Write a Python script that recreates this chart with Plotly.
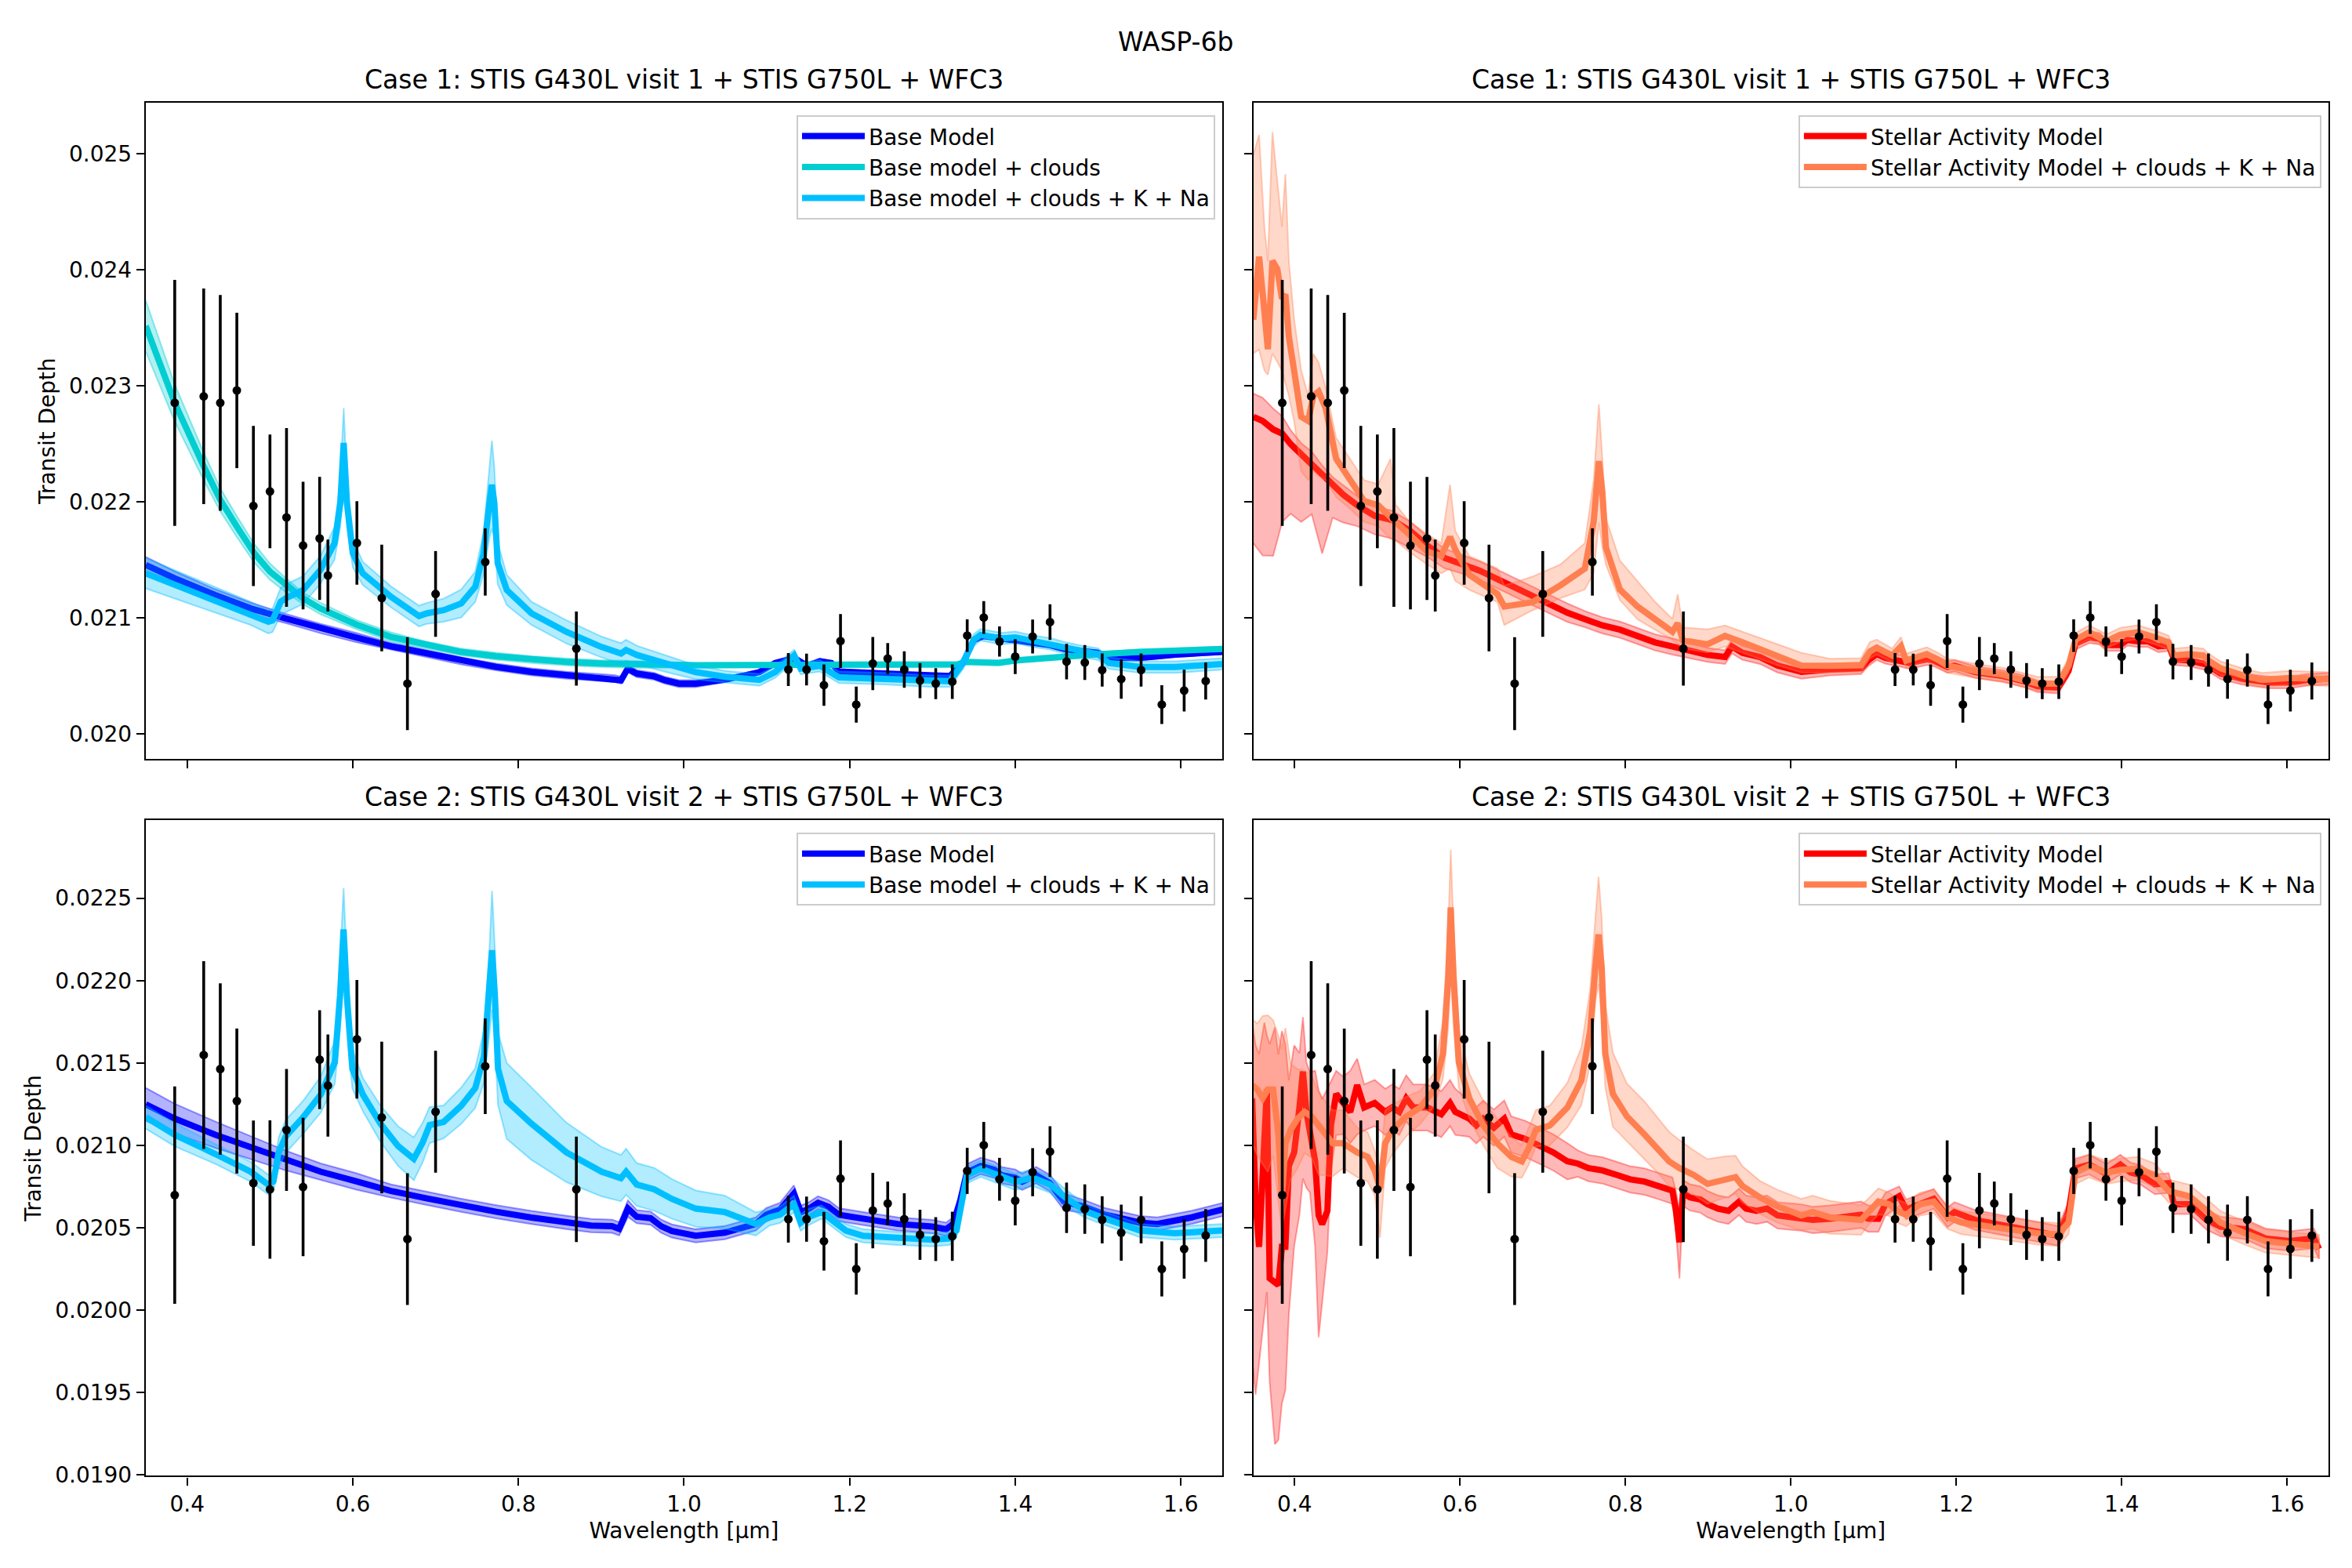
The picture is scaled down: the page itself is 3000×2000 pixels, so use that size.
import plotly.graph_objects as go

# ---------------- observed transit depths ----------------
wl_g430 = [0.385, 0.42, 0.44, 0.46, 0.48, 0.50, 0.52, 0.54, 0.56]
depth_g430_v1 = [0.022852, 0.022908, 0.022852, 0.022959, 0.021963, 0.022088, 0.021864, 0.021622, 0.021683]
err_g430_v1 = [0.00106, 0.00093, 0.00093, 0.00067, 0.00069, 0.00049, 0.00077, 0.00055, 0.00053]
depth_g430_v2 = [0.020698, 0.021548, 0.021463, 0.021269, 0.020771, 0.020732, 0.021093, 0.020747, 0.021520]
err_g430_v2 = [0.00066, 0.00057, 0.00052, 0.00044, 0.00038, 0.00042, 0.00037, 0.00042, 0.00030]

wl_g750 = [0.57, 0.605, 0.635, 0.666, 0.70, 0.76, 0.87]
depth_g750 = [0.021363, 0.021644, 0.021169, 0.020431, 0.021204, 0.021480, 0.020733]
err_g750 = [0.00031, 0.00036, 0.00046, 0.00040, 0.00037, 0.00029, 0.00032]

wl_wfc3 = [1.126, 1.148, 1.169, 1.189, 1.208, 1.228, 1.246, 1.266, 1.285, 1.304, 1.324, 1.342, 1.362,
           1.381, 1.400, 1.421, 1.442, 1.462, 1.484, 1.505, 1.528, 1.552, 1.577, 1.604, 1.630]
depth_wfc3 = [0.020552, 0.020552, 0.020418, 0.020798, 0.020250, 0.020604, 0.020647, 0.020552, 0.020457,
              0.020431, 0.020448, 0.020845, 0.021001, 0.020794, 0.020664, 0.020837, 0.020962, 0.020621,
              0.020613, 0.020548, 0.020470, 0.020548, 0.020250, 0.020371, 0.020453]
err_wfc3 = [0.000142, 0.000137, 0.000178, 0.000232, 0.000156, 0.000229, 0.000133, 0.000157, 0.000152,
            0.000133, 0.000149, 0.000140, 0.000141, 0.000130, 0.000150, 0.000146, 0.000154, 0.000153,
            0.000150, 0.000143, 0.000170, 0.000143, 0.000167, 0.000180, 0.000160]

# ---------------- Case 1, base models ----------------
wlA_base = [0.35, 0.385, 0.434, 0.477, 0.519, 0.561, 0.604, 0.646, 0.689, 0.731, 0.773, 0.816, 0.858,
            0.892, 0.917, 0.924, 0.932, 0.943, 0.964, 0.977, 0.994, 1.014, 1.050, 1.091, 1.110, 1.133,
            1.149, 1.164, 1.178, 1.187, 1.241, 1.300, 1.321, 1.337, 1.350, 1.362, 1.383, 1.400, 1.421,
            1.442, 1.459, 1.480, 1.500, 1.513, 1.551, 1.593, 1.650]
depA_base = [0.021454, 0.021339, 0.021195, 0.021079, 0.020993, 0.020906, 0.020828, 0.020753, 0.020690,
             0.020627, 0.020575, 0.020532, 0.020503, 0.020488, 0.020474, 0.020460, 0.020560, 0.020517,
             0.020494, 0.020460, 0.020431, 0.020431, 0.020465, 0.020530, 0.020608, 0.020652, 0.020585,
             0.020625, 0.020608, 0.020536, 0.020519, 0.020496, 0.020496, 0.020608, 0.020808, 0.020841,
             0.020819, 0.020808, 0.020785, 0.020763, 0.020730, 0.020708, 0.020696, 0.020652, 0.020652,
             0.020680, 0.020705]
bandA_base = [0.00007, 0.00006, 0.00005, 0.00005, 0.00004, 0.00004, 0.00004, 0.00003, 0.00003, 0.00003,
              0.00003, 0.00003, 0.00003, 0.00003, 0.00003, 0.00003, 0.00003, 0.00003, 0.00003, 0.00003,
              0.00003, 0.00003, 0.00002, 0.00002, 0.00002, 0.00002, 0.00002, 0.00002, 0.00002, 0.00002,
              0.00002, 0.00002, 0.00002, 0.00002, 0.00002, 0.00002, 0.00002, 0.00002, 0.00002, 0.00002,
              0.00002, 0.00002, 0.00002, 0.00002, 0.00002, 0.00002, 0.00002]

wlA_cloud = [0.35, 0.385, 0.42, 0.44, 0.46, 0.481, 0.50, 0.519, 0.54, 0.561, 0.604, 0.646, 0.689, 0.731,
             0.773, 0.816, 0.858, 0.90, 0.943, 1.014, 1.10, 1.20, 1.33, 1.34, 1.38, 1.40, 1.43, 1.45,
             1.50, 1.55, 1.65]
depA_cloud = [0.023515, 0.022852, 0.022304, 0.022016, 0.021785, 0.021555, 0.021396, 0.021281, 0.021166,
              0.021079, 0.020941, 0.020834, 0.020762, 0.020704, 0.020667, 0.020638, 0.020618, 0.020604,
              0.020596, 0.020589, 0.020592, 0.020596, 0.020596, 0.020619, 0.020610, 0.020630, 0.020650,
              0.020660, 0.020685, 0.020705, 0.020730]
bandA_cloud = [0.00022, 0.00016, 0.00012, 0.00010, 0.00009, 0.00008, 0.00007, 0.00006, 0.00005, 0.00005,
               0.00004, 0.00004, 0.00003, 0.00003, 0.00003, 0.00003, 0.00003, 0.00003, 0.00003, 0.00002,
               0.00002, 0.00002, 0.00002, 0.00002, 0.00002, 0.00002, 0.00002, 0.00002, 0.00002, 0.00002,
               0.00002]

wlA_kna = [0.35, 0.392, 0.434, 0.477, 0.498, 0.503, 0.513, 0.519, 0.540, 0.561, 0.578, 0.585, 0.589,
           0.593, 0.600, 0.612, 0.646, 0.680, 0.689, 0.710, 0.731, 0.748, 0.758, 0.765, 0.768, 0.771,
           0.775, 0.786, 0.816, 0.858, 0.900, 0.924, 0.930, 0.943, 0.985, 1.014, 1.050, 1.091, 1.110,
           1.133, 1.141, 1.164, 1.187, 1.241, 1.300, 1.321, 1.337, 1.350, 1.358, 1.383, 1.400, 1.421,
           1.442, 1.459, 1.480, 1.500, 1.513, 1.551, 1.593, 1.650]
depA_kna = [0.021382, 0.021267, 0.021151, 0.021036, 0.020964, 0.020975, 0.021137, 0.021166, 0.021238,
            0.021411, 0.021641, 0.021987, 0.022506, 0.021987, 0.021555, 0.021382, 0.021180, 0.021013,
            0.021036, 0.021065, 0.021122, 0.021267, 0.021555, 0.021987, 0.022146, 0.021987, 0.021469,
            0.021238, 0.021036, 0.020877, 0.020748, 0.020690, 0.020720, 0.020678, 0.020589, 0.020530,
            0.020490, 0.020463, 0.020530, 0.020674, 0.020560, 0.020585, 0.020485, 0.020474, 0.020452,
            0.020452, 0.020608, 0.020808, 0.020852, 0.020819, 0.020830, 0.020797, 0.020774, 0.020741,
            0.020708, 0.020685, 0.020608, 0.020574, 0.020574, 0.020600]
bandA_kna = [0.00013, 0.00012, 0.00011, 0.00010, 0.00010, 0.00010, 0.00012, 0.00012, 0.00012, 0.00012,
             0.00014, 0.00020, 0.00030, 0.00020, 0.00012, 0.00010, 0.00009, 0.00009, 0.00009, 0.00010,
             0.00012, 0.00013, 0.00018, 0.00030, 0.00038, 0.00030, 0.00018, 0.00013, 0.00010, 0.00010,
             0.00009, 0.00009, 0.00009, 0.00008, 0.00007, 0.00006, 0.00005, 0.00005, 0.00005, 0.00005,
             0.00005, 0.00005, 0.00005, 0.00005, 0.00005, 0.00005, 0.00005, 0.00005, 0.00005, 0.00005,
             0.00005, 0.00005, 0.00005, 0.00005, 0.00005, 0.00005, 0.00005, 0.00005, 0.00005, 0.00005]

# ---------------- Case 1, stellar activity models ----------------
wlB_sa = [0.35, 0.3613, 0.3740, 0.3850, 0.3952, 0.4079, 0.4206, 0.4333, 0.4460, 0.4587, 0.4756, 0.4968,
          0.5180, 0.5392, 0.5603, 0.5815, 0.6027, 0.6239, 0.6451, 0.6662, 0.6874, 0.7086, 0.7298, 0.7509,
          0.7721, 0.7933, 0.8145, 0.8357, 0.8568, 0.8992, 0.9204, 0.9288, 0.9415, 0.9627, 0.9839, 1.0127,
          1.0474, 1.0850, 1.0934, 1.1038, 1.1143, 1.1310, 1.1435, 1.1644, 1.1728, 1.1895, 1.1979, 1.2229,
          1.2564, 1.2814, 1.2982, 1.3232, 1.3358, 1.3441, 1.3608, 1.3734, 1.3817, 1.3984, 1.4068, 1.4193,
          1.4319, 1.4444, 1.4569, 1.4632, 1.4820, 1.5029, 1.5196, 1.5447, 1.5656, 1.5781, 1.6032, 1.6241,
          1.6513]
depB_sa = [0.022732, 0.022696, 0.022623, 0.022587, 0.022496, 0.022405, 0.022332, 0.022223, 0.022132,
           0.022060, 0.021969, 0.021878, 0.021841, 0.021751, 0.021623, 0.021514, 0.021460, 0.021405,
           0.021333, 0.021260, 0.021187, 0.021114, 0.021042, 0.020987, 0.020933, 0.020896, 0.020842,
           0.020787, 0.020751, 0.020678, 0.020660, 0.020751, 0.020696, 0.020660, 0.020587, 0.020533,
           0.020552, 0.020563, 0.020630, 0.020685, 0.020652, 0.020630, 0.020608, 0.020641, 0.020630,
           0.020574, 0.020585, 0.020530, 0.020496, 0.020452, 0.020408, 0.020396, 0.020541, 0.020774,
           0.020830, 0.020819, 0.020763, 0.020763, 0.020808, 0.020796, 0.020796, 0.020752, 0.020763,
           0.020641, 0.020630, 0.020596, 0.020519, 0.020474, 0.020452, 0.020441, 0.020441, 0.020463,
           0.020474]
lowB_sa = [0.00109, 0.00116, 0.00109, 0.00076, 0.00060, 0.00058, 0.00044, 0.00067, 0.00027, 0.00024,
           0.00018, 0.00016, 0.00016, 0.00015, 0.00010, 0.00009, 0.00008, 0.00008, 0.00008, 0.00008,
           0.00008, 0.00008, 0.00008, 0.00007, 0.00007, 0.00007, 0.00007, 0.00007, 0.00007, 0.00006,
           0.00006, 0.00006, 0.00006, 0.00006, 0.00006, 0.00006,
           0.00005, 0.00005, 0.00005, 0.00005, 0.00005, 0.00005, 0.00005, 0.00005, 0.00005, 0.00005,
           0.00005, 0.00005, 0.00005, 0.00005, 0.00005, 0.00005, 0.00005, 0.00005, 0.00005, 0.00005,
           0.00005, 0.00005, 0.00005, 0.00005, 0.00005, 0.00005, 0.00005, 0.00005, 0.00005, 0.00005,
           0.00005, 0.00005, 0.00005, 0.00005, 0.00005, 0.00005, 0.00005]
highB_sa = [0.00020, 0.00020, 0.00018, 0.00015, 0.00012, 0.00010, 0.00010, 0.00009, 0.00008, 0.00008,
            0.00008, 0.00008, 0.00008, 0.00008, 0.00008, 0.00008, 0.00008, 0.00008, 0.00008, 0.00008,
            0.00008, 0.00008, 0.00008, 0.00007, 0.00007, 0.00007, 0.00007, 0.00007, 0.00007, 0.00006,
            0.00006, 0.00006, 0.00006, 0.00006, 0.00006, 0.00006,
            0.00005, 0.00005, 0.00005, 0.00005, 0.00005, 0.00005, 0.00005, 0.00005, 0.00005, 0.00005,
            0.00005, 0.00005, 0.00005, 0.00005, 0.00005, 0.00005, 0.00005, 0.00005, 0.00005, 0.00005,
            0.00005, 0.00005, 0.00005, 0.00005, 0.00005, 0.00005, 0.00005, 0.00005, 0.00005, 0.00005,
            0.00005, 0.00005, 0.00005, 0.00005, 0.00005, 0.00005, 0.00005]

wlB_sakna = [0.35, 0.3570, 0.3634, 0.3676, 0.3731, 0.3791, 0.3846, 0.3888, 0.3930, 0.3994, 0.4079,
             0.4163, 0.4227, 0.4290, 0.4375, 0.4502, 0.4672, 0.4841, 0.5011, 0.5159, 0.5222, 0.5392,
             0.5603, 0.5773, 0.5879, 0.5942, 0.6112, 0.6451, 0.6535, 0.6874, 0.7213, 0.7509, 0.7615,
             0.7679, 0.7721, 0.7764, 0.7933, 0.8145, 0.8357, 0.8568, 0.8632, 0.8695, 0.8992, 0.9204,
             0.9415, 0.9839, 1.0127,
             1.0474, 1.0850, 1.0955, 1.1038, 1.1226, 1.1331, 1.1394, 1.1644, 1.1770, 1.1895, 1.2229,
             1.2564, 1.2982, 1.3232, 1.3358, 1.3441, 1.3608, 1.3817, 1.3984, 1.4193, 1.4402, 1.4569,
             1.4632, 1.4820, 1.4987, 1.5050, 1.5196, 1.5489, 1.5698, 1.6032, 1.6513]
depB_sakna = [0.023568, 0.024113, 0.023641, 0.023314, 0.024077, 0.024004, 0.023750, 0.023786, 0.023423,
              0.023132, 0.022732, 0.022696, 0.022914, 0.022950, 0.022805, 0.022369, 0.022187, 0.022005,
              0.021969, 0.021860, 0.021823, 0.021714, 0.021569, 0.021532, 0.021696, 0.021587, 0.021369,
              0.021205, 0.021096, 0.021133, 0.021278, 0.021423, 0.021823, 0.022350, 0.022078, 0.021605,
              0.021242, 0.021096, 0.020987, 0.020878, 0.020951, 0.020805, 0.020769, 0.020842, 0.020787,
              0.020660, 0.020587,
              0.020585, 0.020590, 0.020708, 0.020741, 0.020674, 0.020752, 0.020630, 0.020685, 0.020641,
              0.020585, 0.020541, 0.020508, 0.020430, 0.020430, 0.020585, 0.020808, 0.020874, 0.020796,
              0.020852, 0.020874, 0.020830, 0.020785, 0.020674, 0.020685, 0.020674, 0.020630, 0.020563,
              0.020496, 0.020463, 0.020480, 0.020470]
lowB_sakna = [0.00029, 0.00080, 0.00051, 0.00022, 0.00080, 0.00080, 0.00062, 0.00076, 0.00051, 0.00044,
              0.00047, 0.00051, 0.00065, 0.00073, 0.00062, 0.00033, 0.00025, 0.00018, 0.00018, 0.00018,
              0.00016, 0.00015, 0.00011, 0.00015, 0.00027, 0.00027, 0.00013, 0.00007, 0.00016, 0.00007,
              0.00011, 0.00018, 0.00044, 0.00053, 0.00047, 0.00015, 0.00009, 0.00011, 0.00009, 0.00007,
              0.00018, 0.00007, 0.00007, 0.00009, 0.00009, 0.00007, 0.00006,
              0.00006, 0.00006, 0.00006, 0.00006, 0.00006, 0.00006, 0.00006, 0.00006, 0.00006, 0.00006,
              0.00006, 0.00006, 0.00006, 0.00006, 0.00006, 0.00006, 0.00006, 0.00006, 0.00006, 0.00006,
              0.00006, 0.00006, 0.00006, 0.00006, 0.00006, 0.00006, 0.00006, 0.00006, 0.00006, 0.00006,
              0.00006]
highB_sakna = [0.00142, 0.00105, 0.00073, 0.00076, 0.00111, 0.00073, 0.00062, 0.00104, 0.00065, 0.00044,
               0.00040, 0.00022, 0.00036, 0.00025, 0.00018, 0.00018, 0.00018, 0.00018, 0.00018, 0.00051,
               0.00015, 0.00011, 0.00015, 0.00011, 0.00045, 0.00016, 0.00016, 0.00022, 0.00018, 0.00022,
               0.00018, 0.00022, 0.00036, 0.00049, 0.00029, 0.00025, 0.00025, 0.00022, 0.00015, 0.00011,
               0.00025, 0.00011, 0.00013, 0.00009, 0.00009, 0.00011, 0.00011,
               0.00006, 0.00006, 0.00008, 0.00007, 0.00006, 0.00008, 0.00006, 0.00006, 0.00006, 0.00006,
               0.00006, 0.00006, 0.00006, 0.00006, 0.00006, 0.00006, 0.00006, 0.00006, 0.00006, 0.00006,
               0.00006, 0.00006, 0.00006, 0.00006, 0.00006, 0.00006, 0.00006, 0.00006, 0.00006, 0.00006,
               0.00006]

# ---------------- Case 2, base models ----------------
wlC_base = [0.35, 0.385, 0.4342, 0.4766, 0.5190, 0.5613, 0.6037, 0.6461, 0.6885, 0.7309, 0.7733, 0.8157,
            0.8581, 0.8878, 0.9132, 0.9217, 0.9323, 0.9429, 0.9598, 0.9725, 0.9853, 1.0141,
            1.0491, 1.0867, 1.0992, 1.1160, 1.1327, 1.1410, 1.1494, 1.1619, 1.1745, 1.1870, 1.2162,
            1.2580, 1.2998, 1.3165, 1.3249, 1.3333, 1.3416, 1.3583, 1.3750, 1.3834, 1.4001, 1.4085,
            1.4252, 1.4419, 1.4586, 1.4837, 1.5088, 1.5506, 1.5715, 1.6132, 1.6508]
depC_base = [0.021249, 0.021162, 0.021064, 0.020986, 0.020908, 0.020840, 0.020782, 0.020723, 0.020679,
             0.020636, 0.020597, 0.020562, 0.020532, 0.020513, 0.020509, 0.020493, 0.020616, 0.020567,
             0.020558, 0.020509, 0.020480, 0.020451,
             0.020470, 0.020523, 0.020579, 0.020611, 0.020707, 0.020595, 0.020611, 0.020651, 0.020627,
             0.020579, 0.020555, 0.020523, 0.020507, 0.020491, 0.020523, 0.020659, 0.020835, 0.020875,
             0.020851, 0.020819, 0.020803, 0.020779, 0.020819, 0.020771, 0.020659, 0.020627, 0.020579,
             0.020531, 0.020523, 0.020563, 0.020611]
bandC_base = [0.00010, 0.00009, 0.00008, 0.00007, 0.00006, 0.00005, 0.00005, 0.00004, 0.00004, 0.00004,
              0.00004, 0.00004, 0.00004, 0.00004, 0.00004, 0.00004, 0.00005, 0.00004, 0.00004, 0.00004,
              0.00004, 0.00004,
              0.00004, 0.00004, 0.00004, 0.00004, 0.00005, 0.00004, 0.00004, 0.00004, 0.00004, 0.00004,
              0.00004, 0.00004, 0.00004, 0.00004, 0.00004, 0.00005, 0.00005, 0.00005, 0.00005, 0.00005,
              0.00005, 0.00005, 0.00005, 0.00005, 0.00005, 0.00004, 0.00004, 0.00004, 0.00004, 0.00004,
              0.00004]

wlC_kna = [0.35, 0.385, 0.4342, 0.4766, 0.4978, 0.5041, 0.5105, 0.5190, 0.5402, 0.5613, 0.5783, 0.5847,
           0.5889, 0.5931, 0.5995, 0.6122, 0.6334, 0.6546, 0.6737, 0.6843, 0.6928, 0.7097, 0.7309,
           0.7479, 0.7585, 0.7648, 0.7682, 0.7716, 0.7754, 0.7860, 0.8157, 0.8581, 0.9005, 0.9238,
           0.9301, 0.9429, 0.9640, 0.9853, 1.0141,
           1.0491, 1.0867, 1.1034, 1.1160, 1.1327, 1.1410, 1.1494, 1.1661, 1.1828, 1.1954, 1.2162,
           1.2580, 1.2998, 1.3207, 1.3291, 1.3416, 1.3583, 1.3834, 1.4001, 1.4210, 1.4419, 1.4586,
           1.4837, 1.5088, 1.5506, 1.5923, 1.6508]
depC_kna = [0.021171, 0.021064, 0.020947, 0.020840, 0.020762, 0.020782, 0.020957, 0.021054, 0.021171,
            0.021308, 0.021503, 0.021912, 0.022311, 0.021892, 0.021464, 0.021308, 0.021132, 0.020996,
            0.020918, 0.021016, 0.021123, 0.021142, 0.021240, 0.021347, 0.021541, 0.021912, 0.022184,
            0.021912, 0.021464, 0.021269, 0.021132, 0.020957, 0.020840, 0.020801, 0.020840, 0.020762,
            0.020733, 0.020675, 0.020616,
            0.020595, 0.020523, 0.020563, 0.020579, 0.020643, 0.020531, 0.020563, 0.020595, 0.020531,
            0.020483, 0.020451, 0.020435, 0.020427, 0.020435, 0.020483, 0.020819, 0.020859, 0.020811,
            0.020779, 0.020803, 0.020763, 0.020691, 0.020603, 0.020555, 0.020483, 0.020467, 0.020483]
bandC_kna = [0.00007, 0.00007, 0.00006, 0.00006, 0.00006, 0.00006, 0.00009, 0.00010, 0.00010, 0.00011,
             0.00013, 0.00020, 0.00025, 0.00020, 0.00012, 0.00010, 0.00011, 0.00012, 0.00013, 0.00012,
             0.00011, 0.00010, 0.00011, 0.00012, 0.00016, 0.00025, 0.00036, 0.00028, 0.00022, 0.00023,
             0.00022, 0.00018, 0.00015, 0.00014, 0.00014, 0.00013, 0.00013, 0.00012, 0.00011,
             0.00010, 0.00007, 0.00005, 0.00005, 0.00005, 0.00005, 0.00005, 0.00004, 0.00004, 0.00004,
             0.00004, 0.00004, 0.00004, 0.00004, 0.00004, 0.00005, 0.00005, 0.00005, 0.00005, 0.00005,
             0.00005, 0.00005, 0.00004, 0.00004, 0.00004, 0.00004, 0.00004]

# ---------------- Case 2, stellar activity models ----------------
wlD_sa = [0.3486, 0.3528, 0.3570, 0.3634, 0.3664, 0.3698, 0.3761, 0.3803, 0.3846, 0.3888, 0.3930, 0.3994,
          0.4058, 0.4100, 0.4142, 0.4185, 0.4248, 0.4290, 0.4333, 0.4396, 0.4439, 0.4502, 0.4587, 0.4672,
          0.4756, 0.4841, 0.4968, 0.5095, 0.5180, 0.5265, 0.5349, 0.5434, 0.5603, 0.5773, 0.5879, 0.5942,
          0.6112, 0.6196, 0.6281, 0.6408, 0.6535, 0.6620, 0.6789, 0.6959, 0.7128, 0.7298, 0.7425, 0.7552,
          0.7721, 0.7891, 0.8060, 0.8230, 0.8399, 0.8568, 0.8611, 0.8653, 0.8695, 0.8780, 0.8907, 0.8992,
          0.9119, 0.9246, 0.9373, 0.9458, 0.9585, 0.9712, 0.9839, 1.0127,
          1.0265, 1.0474, 1.0850, 1.0934, 1.1059, 1.1143, 1.1310, 1.1394, 1.1561, 1.1728, 1.1895, 1.1979,
          1.2229, 1.2564, 1.2982, 1.3232, 1.3358, 1.3441, 1.3608, 1.3817, 1.3984, 1.4110, 1.4235, 1.4402,
          1.4569, 1.4632, 1.4820, 1.5029, 1.5196, 1.5489, 1.5740, 1.6032, 1.6325, 1.6387]
depD_sa = [0.021285, 0.020657, 0.020384, 0.021066, 0.021339, 0.020193, 0.020166, 0.020152, 0.020384,
           0.020384, 0.020875, 0.020957, 0.021230, 0.021448, 0.021203, 0.021094, 0.020903, 0.020575,
           0.020521, 0.020603, 0.021121, 0.021312, 0.021257, 0.021203, 0.021366, 0.021230, 0.021257,
           0.021203, 0.021230, 0.021203, 0.021285, 0.021230, 0.021230, 0.021189, 0.021257, 0.021203,
           0.021162, 0.021121, 0.021162, 0.021107, 0.021162, 0.021066, 0.021039, 0.020998, 0.020957,
           0.020903, 0.020889, 0.020862, 0.020848, 0.020821, 0.020793, 0.020780, 0.020753, 0.020725,
           0.020603, 0.020412, 0.020712, 0.020684, 0.020671, 0.020643, 0.020616, 0.020603, 0.020657,
           0.020616, 0.020603, 0.020616, 0.020575, 0.020562,
           0.020547, 0.020555, 0.020579, 0.020555, 0.020555, 0.020643, 0.020691, 0.020611, 0.020643,
           0.020675, 0.020563, 0.020595, 0.020547, 0.020515, 0.020475, 0.020451, 0.020595, 0.020859,
           0.020883, 0.020827, 0.020883, 0.020835, 0.020819, 0.020763, 0.020771, 0.020643, 0.020643,
           0.020547, 0.020507, 0.020491, 0.020435, 0.020419, 0.020435, 0.020371]
lowD_sa = [0.00158, 0.00117, 0.00068, 0.00109, 0.00123, 0.00063, 0.00098, 0.00094, 0.00095, 0.00087,
           0.00090, 0.00057, 0.00065, 0.00065, 0.00046, 0.00038, 0.00052, 0.00074, 0.00049, 0.00025,
           0.00027, 0.00025, 0.00019, 0.00019, 0.00030,
           0.00014, 0.00014, 0.00014, 0.00014, 0.00014, 0.00014, 0.00014, 0.00014, 0.00014, 0.00014,
           0.00014, 0.00011, 0.00011, 0.00011, 0.00011, 0.00011, 0.00011, 0.00011, 0.00011, 0.00011,
           0.00011, 0.00008, 0.00008, 0.00008, 0.00008, 0.00008, 0.00008, 0.00008, 0.00008, 0.00012,
           0.00022, 0.00008, 0.00008, 0.00008, 0.00008, 0.00008, 0.00008, 0.00008, 0.00008, 0.00008,
           0.00008, 0.00008, 0.00008,
           0.00008, 0.00008, 0.00008, 0.00008, 0.00008, 0.00007, 0.00006, 0.00006, 0.00006, 0.00006,
           0.00006, 0.00006, 0.00006, 0.00006, 0.00006, 0.00006, 0.00006, 0.00006, 0.00006, 0.00006,
           0.00006, 0.00006, 0.00006, 0.00006, 0.00006, 0.00006, 0.00006, 0.00006, 0.00006, 0.00006,
           0.00006, 0.00006, 0.00006, 0.00006]
highD_sa = [0.00046, 0.00095, 0.00117, 0.00068, 0.00033, 0.00142, 0.00155, 0.00140, 0.00131, 0.00123,
            0.00052, 0.00065, 0.00033, 0.00033, 0.00030, 0.00035, 0.00055, 0.00076, 0.00076, 0.00074,
            0.00027, 0.00014, 0.00016, 0.00025, 0.00016,
            0.00014, 0.00014, 0.00014, 0.00014, 0.00014, 0.00014, 0.00014, 0.00014, 0.00014, 0.00014,
            0.00014, 0.00011, 0.00011, 0.00011, 0.00011, 0.00011, 0.00011, 0.00011, 0.00011, 0.00011,
            0.00011, 0.00008, 0.00008, 0.00008, 0.00008, 0.00008, 0.00008, 0.00008, 0.00008, 0.00012,
            0.00019, 0.00008, 0.00008, 0.00008, 0.00008, 0.00008, 0.00008, 0.00008, 0.00008, 0.00008,
            0.00008, 0.00008, 0.00008,
            0.00008, 0.00008, 0.00008, 0.00008, 0.00008, 0.00007, 0.00006, 0.00006, 0.00006, 0.00006,
            0.00006, 0.00006, 0.00006, 0.00006, 0.00006, 0.00006, 0.00006, 0.00006, 0.00006, 0.00006,
            0.00006, 0.00006, 0.00006, 0.00006, 0.00006, 0.00006, 0.00006, 0.00006, 0.00006, 0.00006,
            0.00006, 0.00006, 0.00006, 0.00006]

wlD_sakna = [0.3486, 0.3549, 0.3613, 0.3676, 0.3740, 0.3803, 0.3846, 0.3888, 0.3952, 0.4036, 0.4121,
             0.4206, 0.4290, 0.4375, 0.4460, 0.4587, 0.4756, 0.4883, 0.4968, 0.5032, 0.5095, 0.5180,
             0.5349, 0.5519, 0.5688, 0.5794, 0.5858, 0.5887, 0.5921, 0.5985, 0.6112, 0.6281, 0.6451,
             0.6620, 0.6747, 0.6832, 0.6917, 0.7086, 0.7298, 0.7467, 0.7573, 0.7636, 0.7675, 0.7713,
             0.7755, 0.7848, 0.8018, 0.8230, 0.8441, 0.8526, 0.8653, 0.8822, 0.8992, 0.9204, 0.9331,
             0.9415, 0.9627, 0.9839, 1.0127,
             1.0265, 1.0474, 1.0850, 1.0934, 1.1059, 1.1185, 1.1310, 1.1394, 1.1561, 1.1728, 1.1895,
             1.2062, 1.2396, 1.2773, 1.2982, 1.3232, 1.3358, 1.3441, 1.3608, 1.3817, 1.3984, 1.4193,
             1.4402, 1.4569, 1.4820, 1.5050, 1.5196, 1.5489, 1.5740, 1.6032, 1.6387]
depD_sakna = [0.021366, 0.021339, 0.021285, 0.021339, 0.021339, 0.021066, 0.020684, 0.021012, 0.021094,
              0.021162, 0.021203, 0.021175, 0.021121, 0.021066, 0.021012, 0.021012, 0.020957, 0.020930,
              0.020848, 0.020739, 0.021012, 0.021094, 0.021175, 0.021230, 0.021339, 0.021557, 0.022021,
              0.022444, 0.022021, 0.021503, 0.021285, 0.021121, 0.021012, 0.020930, 0.020903, 0.020984,
              0.021094, 0.021121, 0.021230, 0.021394, 0.021694, 0.022076, 0.022280, 0.022076, 0.021557,
              0.021312, 0.021175, 0.021066, 0.020957, 0.020903, 0.020862, 0.020821, 0.020766, 0.020793,
              0.020807, 0.020753, 0.020684, 0.020630, 0.020575,
              0.020595, 0.020563, 0.020547, 0.020595, 0.020659, 0.020643, 0.020595, 0.020579, 0.020643,
              0.020659, 0.020563, 0.020531, 0.020507, 0.020483, 0.020467, 0.020459, 0.020531, 0.020835,
              0.020875, 0.020835, 0.020851, 0.020859, 0.020819, 0.020723, 0.020691, 0.020595, 0.020531,
              0.020467, 0.020419, 0.020403, 0.020387]
lowD_sakna = [0.00035, 0.00040, 0.00040, 0.00050, 0.00040, 0.00040, 0.00020, 0.00040, 0.00030, 0.00030,
              0.00025, 0.00025, 0.00030, 0.00025, 0.00020, 0.00015, 0.00015, 0.00015, 0.00015, 0.00030,
              0.00015, 0.00015, 0.00012, 0.00010, 0.00010, 0.00015, 0.00030, 0.00040, 0.00030, 0.00015,
              0.00012, 0.00012, 0.00015, 0.00012, 0.00010, 0.00010, 0.00010, 0.00012, 0.00012, 0.00015,
              0.00020, 0.00020, 0.00030, 0.00030, 0.00020, 0.00020, 0.00015, 0.00015, 0.00015, 0.00015,
              0.00013, 0.00012, 0.00012, 0.00011, 0.00010, 0.00010, 0.00010, 0.00010, 0.00009,
              0.00010, 0.00010, 0.00009, 0.00008, 0.00008, 0.00007, 0.00007, 0.00007, 0.00007, 0.00007,
              0.00007, 0.00007, 0.00007, 0.00007, 0.00007, 0.00007, 0.00007, 0.00007, 0.00007, 0.00007,
              0.00007, 0.00007, 0.00007, 0.00007, 0.00007, 0.00007, 0.00007, 0.00007, 0.00007, 0.00007,
              0.00007]
highD_sakna = [0.00040, 0.00040, 0.00050, 0.00045, 0.00042, 0.00060, 0.00090, 0.00070, 0.00040, 0.00030,
               0.00025, 0.00025, 0.00020, 0.00020, 0.00020, 0.00020, 0.00015, 0.00015, 0.00012, 0.00012,
               0.00020, 0.00015, 0.00012, 0.00010, 0.00010, 0.00020, 0.00030, 0.00035, 0.00030, 0.00020,
               0.00015, 0.00015, 0.00015, 0.00012, 0.00010, 0.00012, 0.00012, 0.00012, 0.00015, 0.00020,
               0.00025, 0.00030, 0.00035, 0.00030, 0.00030, 0.00025, 0.00020, 0.00020, 0.00018, 0.00018,
               0.00017, 0.00015, 0.00015, 0.00014, 0.00013, 0.00012, 0.00010, 0.00010, 0.00010,
               0.00010, 0.00010, 0.00009, 0.00008, 0.00008, 0.00007, 0.00007, 0.00007, 0.00007, 0.00007,
               0.00007, 0.00007, 0.00007, 0.00007, 0.00007, 0.00007, 0.00007, 0.00007, 0.00007, 0.00007,
               0.00007, 0.00007, 0.00007, 0.00007, 0.00007, 0.00007, 0.00007, 0.00007, 0.00007, 0.00007,
               0.00007]

# ---------------- labels ----------------
suptitle = "WASP-6b"
titles = ["Case 1: STIS G430L visit 1 + STIS G750L + WFC3",
          "Case 1: STIS G430L visit 1 + STIS G750L + WFC3",
          "Case 2: STIS G430L visit 2 + STIS G750L + WFC3",
          "Case 2: STIS G430L visit 2 + STIS G750L + WFC3"]
xticks = [0.4, 0.6, 0.8, 1.0, 1.2, 1.4, 1.6]
yticks_top = [0.020, 0.021, 0.022, 0.023, 0.024, 0.025]
yticks_bot = [0.0190, 0.0195, 0.0200, 0.0205, 0.0210, 0.0215, 0.0220, 0.0225]

# ---------------- figure ----------------
FONT = "DejaVu Sans"
fig = go.Figure()

xdom = {1: [0.0593, 0.5170], 2: [0.5302, 0.9873], 3: [0.0593, 0.5170], 4: [0.5302, 0.9873]}
ydom = {1: [0.516, 0.938], 2: [0.516, 0.938], 3: [0.0552, 0.4767], 4: [0.0552, 0.4767]}
leg = {1: "legend", 2: "legend2", 3: "legend3", 4: "legend4"}


def axnames(i):
    return ("x" if i == 1 else f"x{i}"), ("y" if i == 1 else f"y{i}")


def add_model(i, x, y, wlo, whi, color, fill, edge, name):
    xa, ya = axnames(i)
    lo = [v - d for v, d in zip(y, wlo)]
    hi = [v + d for v, d in zip(y, whi)]
    fig.add_trace(go.Scatter(x=list(x) + list(x)[::-1], y=hi + lo[::-1], fill="toself",
                             fillcolor=fill, line=dict(color=edge, width=2), mode="lines",
                             hoverinfo="skip", showlegend=False, xaxis=xa, yaxis=ya))
    fig.add_trace(go.Scatter(x=x, y=y, mode="lines", line=dict(color=color, width=8),
                             name=name, legend=leg[i], legendgroup=f"{leg[i]}-{name}",
                             xaxis=xa, yaxis=ya))


def add_data(i, wl, dep, err):
    xa, ya = axnames(i)
    fig.add_trace(go.Scatter(x=wl, y=dep, mode="markers",
                             marker=dict(color="black", size=11),
                             error_y=dict(type="data", array=err, color="black", thickness=3.6, width=0),
                             showlegend=False, xaxis=xa, yaxis=ya))


BLUE = ("#0000ff", "rgba(0,0,255,0.30)", "rgba(0,0,255,0.40)")
TEAL = ("#00ced1", "rgba(0,206,209,0.30)", "rgba(0,206,209,0.40)")
SKY = ("#00bfff", "rgba(0,191,255,0.30)", "rgba(0,191,255,0.40)")
RED = ("#ff0000", "rgba(255,0,0,0.28)", "rgba(255,0,0,0.35)")
CORAL = ("#ff7f50", "rgba(255,127,80,0.30)", "rgba(255,127,80,0.38)")

# Panel 1
add_model(1, wlA_base, depA_base, bandA_base, bandA_base, *BLUE, "Base Model")
add_model(1, wlA_cloud, depA_cloud, bandA_cloud, bandA_cloud, *TEAL, "Base model + clouds")
add_model(1, wlA_kna, depA_kna, bandA_kna, bandA_kna, *SKY, "Base model + clouds + K + Na")
# Panel 2
add_model(2, wlB_sa, depB_sa, lowB_sa, highB_sa, *RED, "Stellar Activity Model")
add_model(2, wlB_sakna, depB_sakna, lowB_sakna, highB_sakna, *CORAL, "Stellar Activity Model + clouds + K + Na")
# Panel 3
add_model(3, wlC_base, depC_base, bandC_base, bandC_base, *BLUE, "Base Model")
add_model(3, wlC_kna, depC_kna, bandC_kna, bandC_kna, *SKY, "Base model + clouds + K + Na")
# Panel 4
add_model(4, wlD_sa, depD_sa, lowD_sa, highD_sa, *RED, "Stellar Activity Model")
add_model(4, wlD_sakna, depD_sakna, lowD_sakna, highD_sakna, *CORAL, "Stellar Activity Model + clouds + K + Na")

for i in (1, 2):
    add_data(i, wl_g430 + wl_g750 + wl_wfc3, depth_g430_v1 + depth_g750 + depth_wfc3,
             err_g430_v1 + err_g750 + err_wfc3)
for i in (3, 4):
    add_data(i, wl_g430 + wl_g750 + wl_wfc3, depth_g430_v2 + depth_g750 + depth_wfc3,
             err_g430_v2 + err_g750 + err_wfc3)

axis_common = dict(showline=True, linecolor="black", linewidth=2.2, mirror=True, ticks="outside",
                   ticklen=10, tickwidth=2.2, tickcolor="black", showgrid=False, zeroline=False,
                   tickfont=dict(family=FONT, size=28, color="black"))

layout = dict(width=3000, height=2000, paper_bgcolor="white", plot_bgcolor="white",
              margin=dict(l=0, r=0, t=0, b=0), font=dict(family=FONT, size=28, color="black"))

for i in (1, 2, 3, 4):
    xa, ya = axnames(i)
    xkey = "xaxis" if i == 1 else f"xaxis{i}"
    ykey = "yaxis" if i == 1 else f"yaxis{i}"
    xd = dict(axis_common, domain=xdom[i], anchor=ya, range=[0.35, 1.65], tickvals=xticks,
              ticktext=[f"{v:.1f}" for v in xticks], showticklabels=(i >= 3))
    if i >= 3:
        xd["title"] = dict(text="Wavelength [µm]", font=dict(family=FONT, size=28), standoff=8)
    if i <= 2:
        yr, yt, fmt = [0.01978, 0.02544], yticks_top, "{:.3f}"
    else:
        yr, yt, fmt = [0.018994, 0.022973], yticks_bot, "{:.4f}"
    yd = dict(axis_common, domain=ydom[i], anchor=xa, range=yr, tickvals=yt,
              ticktext=[fmt.format(v) for v in yt], showticklabels=(i in (1, 3)))
    if i in (1, 3):
        yd["title"] = dict(text="Transit Depth", font=dict(family=FONT, size=28), standoff=9)
    layout[xkey] = xd
    layout[ykey] = yd

    lk = leg[i]
    layout[lk] = dict(x=xdom[i][1] - 0.003, y=ydom[i][1] - 0.008, xanchor="right", yanchor="top",
                      bgcolor="rgba(255,255,255,0.8)", bordercolor="#cccccc", borderwidth=2,
                      font=dict(family=FONT, size=28, color="black"), tracegroupgap=0,
                      itemwidth=80)

annotations = [dict(text=suptitle, x=0.4973, y=0.977, xref="paper", yref="paper", showarrow=False,
                    xanchor="center", yanchor="middle", font=dict(family=FONT, size=33, color="black"))]
for i in (1, 2, 3, 4):
    annotations.append(dict(text=titles[i - 1], x=(xdom[i][0] + xdom[i][1]) / 2, y=ydom[i][1],
                            xref="paper", yref="paper", showarrow=False, xanchor="center",
                            yanchor="bottom", yshift=8,
                            font=dict(family=FONT, size=33, color="black")))
layout["annotations"] = annotations

fig.update_layout(**layout)
fig.write_html("out.html")
